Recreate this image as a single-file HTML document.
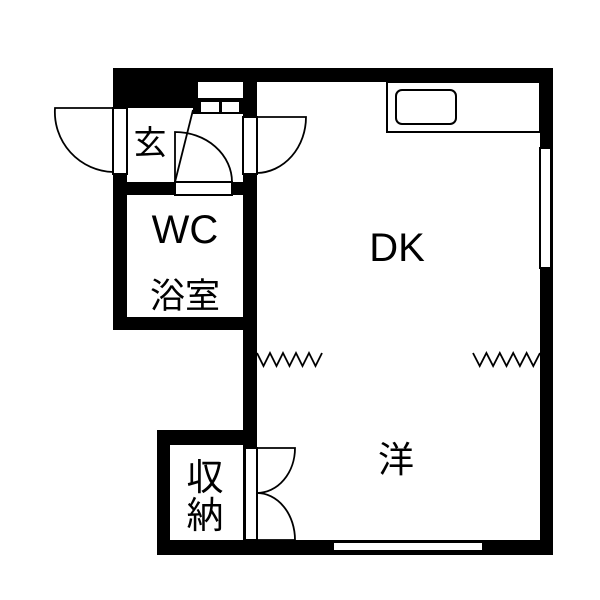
<!DOCTYPE html>
<html><head><style>body{margin:0;background:#fff}svg{display:block}</style></head><body>
<svg width="600" height="600" viewBox="0 0 600 600" xmlns="http://www.w3.org/2000/svg">
<rect width="600" height="600" fill="#fff"/>
<g fill="#000">
<rect x="113" y="68" width="440" height="14"/>
<rect x="113" y="68" width="14" height="262"/>
<rect x="113" y="68" width="84" height="40"/>
<rect x="193" y="68" width="50" height="46"/>
<rect x="243" y="68" width="14" height="487"/>
<rect x="540" y="68" width="13" height="487"/>
<rect x="157" y="540" width="396" height="15"/>
<rect x="113" y="182" width="140" height="13"/>
<rect x="113" y="317" width="140" height="13"/>
<rect x="157" y="430" width="100" height="15"/>
<rect x="157" y="430" width="13" height="125"/>
</g>
<g fill="#fff" stroke="#000" stroke-width="2">
<rect x="198" y="82" width="45" height="16" stroke="none"/>
<rect x="200" y="101" width="20" height="12"/>
<rect x="221" y="101" width="19" height="12"/>
<rect x="113" y="108" width="14" height="66"/>
<rect x="243" y="117" width="14" height="57"/>
<rect x="175" y="182" width="57" height="13"/>
<rect x="245" y="448" width="12" height="92"/>
<rect x="333" y="542" width="150" height="9"/>
<rect x="540" y="148" width="11" height="120"/>
<rect x="387" y="82" width="153" height="50"/>
<rect x="396" y="90" width="60" height="34" rx="6"/>
</g>
<g fill="none" stroke="#000" stroke-width="1.8">
<path d="M113 108 H55 A60 60 0 0 0 113 172"/>
<path d="M257 117 H306 A50 56 0 0 1 257 173"/>
<path d="M175 182 V132 A57 50 0 0 1 232 182"/>
<path d="M193 110 L175 182"/>
<path d="M257 448 H295 A38 45 0 0 1 257 493"/>
<path d="M257 493 A38 47 0 0 1 295 540 H257"/>
<path d="M257 353 l6.5 13 l6.5 -13 l6.5 13 l6.5 -13 l6.5 13 l6.5 -13 l6.5 13 l6.5 -13 l6.5 13 l6.5 -13"/>
<path d="M473 353 l6.7 13 l6.7 -13 l6.7 13 l6.7 -13 l6.7 13 l6.7 -13 l6.7 13 l6.7 -13 l6.7 13 l6.7 -13"/>
</g>
<g font-family="Liberation Sans, Noto Sans CJK JP, sans-serif" text-anchor="middle" fill="#000">
<text x="397" y="261" font-size="40">DK</text>
<text x="185" y="243" font-size="40">WC</text>
<text x="185" y="308" font-size="35">浴室</text>
<text x="150" y="154" font-size="33">玄</text>
<text x="205" y="490" font-size="37">収</text>
<text x="205" y="528" font-size="37">納</text>
<text x="396" y="472" font-size="36">洋</text>
</g>
</svg>
</body></html>
